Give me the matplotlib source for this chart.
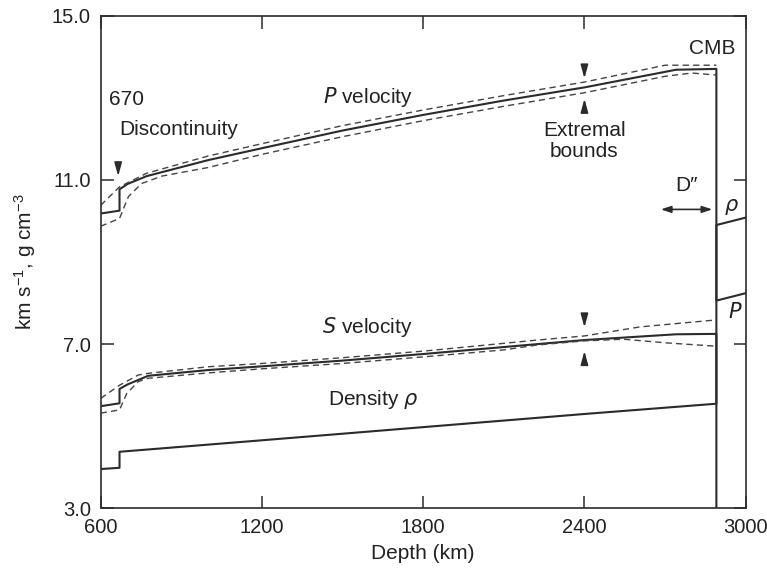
import numpy as np
import matplotlib
matplotlib.use('Agg')
import matplotlib.pyplot as plt

plt.rcParams['font.family'] = ['Liberation Sans', 'DejaVu Sans']
plt.rcParams['mathtext.default'] = 'regular'

# P velocity (solid), with the step at 670 km and the drop at the CMB
p_depth = [600, 670, 670, 700, 771, 1000, 1200, 1500, 1800, 2100, 2400, 2741, 2891, 2891, 3000]
p_vel = [10.18, 10.25, 10.77, 10.90, 11.09, 11.48, 11.77, 12.20, 12.58, 12.93, 13.25, 13.68, 13.70, 8.06, 8.24]

# extremal bounds of P velocity
p_up_depth = [600, 670, 771, 1000, 1200, 1500, 1800, 2100, 2400, 2700, 2891]
p_up = [10.38, 10.83, 11.16, 11.58, 11.88, 12.32, 12.70, 13.05, 13.38, 13.79, 13.79]
p_lo_depth = [600, 670, 703, 752, 827, 1000, 1200, 1500, 1800, 2100, 2400, 2700, 2800, 2891]
p_lo = [9.87, 10.06, 10.59, 10.91, 11.09, 11.30, 11.62, 12.05, 12.44, 12.79, 13.12, 13.52, 13.60, 13.55]

# S velocity (solid), drops to zero in the core
s_depth = [600, 670, 670, 700, 777, 1000, 1200, 1500, 1800, 2100, 2400, 2741, 2891, 2891]
s_vel = [5.49, 5.56, 5.91, 6.02, 6.23, 6.37, 6.46, 6.60, 6.76, 6.93, 7.10, 7.24, 7.25, 0.0]

s_up_depth = [600, 670, 740, 777, 1000, 1200, 1500, 1800, 2100, 2225, 2400, 2607, 2891]
s_up = [5.68, 6.00, 6.25, 6.29, 6.45, 6.53, 6.67, 6.83, 7.02, 7.10, 7.20, 7.42, 7.59]
s_lo_depth = [600, 670, 697, 740, 777, 1000, 1200, 1500, 1800, 2100, 2225, 2400, 2545, 2707, 2891]
s_lo = [5.32, 5.40, 5.80, 6.09, 6.17, 6.30, 6.40, 6.53, 6.69, 6.86, 6.98, 7.08, 7.12, 7.03, 6.95]

# density
rho_depth = [600, 670, 670, 1200, 1800, 2400, 2891, 2891, 3000]
rho = [3.96, 3.99, 4.38, 4.66, 4.98, 5.30, 5.55, 9.90, 10.08]

line_col = '#2b2b2b'
text_col = '#222222'

fig = plt.figure(figsize=(7.67, 5.68), dpi=100)
ax = fig.add_axes([0.1313, 0.1048, 0.8409, 0.8679])

ax.plot(p_depth, p_vel, color=line_col, lw=1.5)
ax.plot(s_depth, s_vel, color=line_col, lw=1.5)
ax.plot(rho_depth, rho, color=line_col, lw=1.5)
for d, v in [(p_up_depth, p_up), (p_lo_depth, p_lo), (s_up_depth, s_up), (s_lo_depth, s_lo)]:
    ax.plot(d, v, color='#444444', lw=1.0, dashes=(4.5, 3))

ax.set_xlim(600, 3000)
ax.set_ylim(3.0, 15.0)
ax.set_xticks([600, 1200, 1800, 2400, 3000])
ax.set_yticks([3, 7, 11, 15])
ax.set_yticklabels(['3.0', '7.0', '11.0', '15.0'])
ax.tick_params(direction='in', length=9, width=1.1, top=True, right=True,
               labelsize=14.5, colors=line_col, labelcolor=text_col, pad=7)
for sp in ax.spines.values():
    sp.set_color(line_col)
    sp.set_linewidth(1.2)

ax.set_xlabel('Depth (km)', fontsize=15, color=text_col, labelpad=5)
ax.set_ylabel('km s$^{-1}$, g cm$^{-3}$', fontsize=15, color=text_col, labelpad=10)

# small arrowheads pointing at the curves
arrow_kw = dict(arrowstyle='-|>,head_length=0.8,head_width=0.22', color=line_col, lw=1.2)
for tail, tip in [((665, 11.41), (665, 11.02)),
                  ((2400, 13.72), (2400, 13.40)),
                  ((2400, 12.72), (2400, 13.04)),
                  ((2400, 7.71), (2400, 7.34)),
                  ((2400, 6.53), (2400, 6.90))]:
    ax.annotate('', xy=tip, xytext=tail, arrowprops=arrow_kw)

# D'' double arrow
ax.annotate('', xy=(2886, 10.28), xytext=(2674, 10.28),
            arrowprops=dict(arrowstyle='<|-|>,head_length=0.6,head_width=0.2',
                            color=line_col, lw=1.2))

fs = 15
ax.text(632, 12.96, '670', fontsize=fs, color=text_col, va='center')
ax.text(670, 12.22, 'Discontinuity', fontsize=fs, color=text_col, va='center')
ax.text(1595, 13.01, '$\\it{P}$ velocity', fontsize=fs, color=text_col, ha='center', va='center')
ax.text(2400, 11.95, 'Extremal\nbounds', fontsize=fs, color=text_col, ha='center', va='center',
        linespacing=1.15)
ax.text(2875, 14.20, 'CMB', fontsize=fs, color=text_col, ha='center', va='center')
ax.text(2781, 10.87, 'D\u2033', fontsize=fs, color=text_col, ha='center', va='center')
ax.text(2948, 10.34, '$\\it{\\rho}$', fontsize=fs, color=text_col, ha='center', va='center')
ax.text(2960, 7.78, '$\\it{P}$', fontsize=fs, color=text_col, ha='center', va='center')
ax.text(1591, 7.42, '$\\it{S}$ velocity', fontsize=fs, color=text_col, ha='center', va='center')
ax.text(1614, 5.66, 'Density $\\it{\\rho}$', fontsize=fs, color=text_col, ha='center', va='center')

fig.savefig('out.png', dpi=100)
